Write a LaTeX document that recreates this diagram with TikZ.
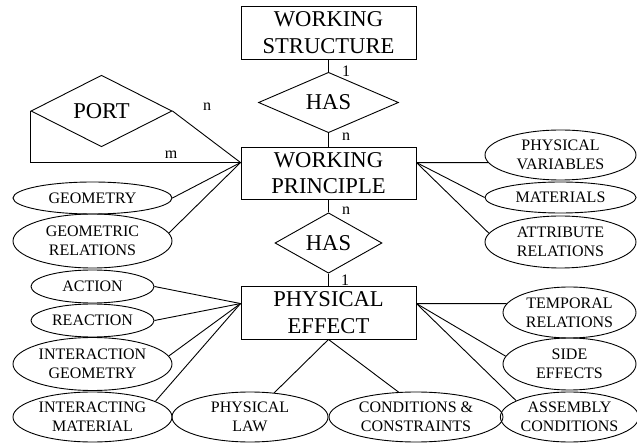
\documentclass[tikz,border=0pt]{standalone}
\usepackage{fontspec}
\setmainfont{Liberation Serif}
\usetikzlibrary{shapes.geometric,calc}
\begin{document}
\begin{tikzpicture}[x=1pt,y=-1pt,line width=0.9pt,
  entity/.style={draw,rectangle,minimum width=175pt,inner sep=0pt,align=center,font=\fontsize{22.6}{26.5}\selectfont},
  rel/.style={draw,diamond,inner sep=0pt,align=center,font=\fontsize{22.6}{26}\selectfont},
  attr/.style={draw,ellipse,inner sep=0pt,align=center,font=\fontsize{16}{19}\selectfont},
  card/.style={font=\fontsize{16}{16}\selectfont,inner sep=0pt}]
\useasboundingbox (0,0) rectangle (637,443);
% entities
\node[entity,minimum height=53pt] (ws) at (328.5,32.5) {WORKING\\STRUCTURE};
\node[entity,minimum height=52pt] (wp) at (328.5,173) {WORKING\\PRINCIPLE};
\node[entity,minimum height=53pt] (pe) at (328.5,312.5) {PHYSICAL\\EFFECT};
% relations
\node[rel,minimum width=140pt,minimum height=51pt] (has1) at (328.5,102.5) {HAS};
\node[rel,minimum width=107pt,minimum height=52pt] (has2) at (328.5,243) {HAS};
\node[rel,minimum width=141pt,minimum height=52pt] (port) at (101.5,111) {PORT};
% attributes left
\node[attr,minimum width=159pt,minimum height=32pt] (geo) at (92.5,198) {GEOMETRY};
\node[attr,minimum width=159pt,minimum height=54pt] (grel) at (92.5,241) {GEOMETRIC\\RELATIONS};
\node[attr,minimum width=123pt,minimum height=33pt] (act) at (92.5,286.5) {ACTION};
\node[attr,minimum width=123pt,minimum height=33pt] (react) at (92.5,320.5) {REACTION};
\node[attr,minimum width=159pt,minimum height=53pt] (igeo) at (92.5,364) {INTERACTION\\GEOMETRY};
\node[attr,minimum width=159pt,minimum height=50pt] (imat) at (92.5,417) {INTERACTING\\MATERIAL};
% attributes bottom
\node[attr,minimum width=156pt,minimum height=50pt] (plaw) at (250,417) {PHYSICAL\\LAW};
\node[attr,minimum width=174pt,minimum height=50pt] (cc) at (416,417) {CONDITIONS \&\\CONSTRAINTS};
% attributes right
\node[attr,minimum width=151pt,minimum height=50pt] (pv) at (560.5,155) {PHYSICAL\\VARIABLES};
\node[attr,minimum width=151pt,minimum height=31pt] (mat) at (560.5,197.5) {MATERIALS};
\node[attr,minimum width=151pt,minimum height=52pt] (ar) at (560.5,242) {ATTRIBUTE\\RELATIONS};
\node[attr,minimum width=133pt,minimum height=51pt] (temp) at (569.5,312.5) {TEMPORAL\\RELATIONS};
\node[attr,minimum width=133pt,minimum height=52pt] (side) at (569.5,364) {SIDE\\EFFECTS};
\node[attr,minimum width=133pt,minimum height=50pt] (asm) at (569.5,417) {ASSEMBLY\\CONDITIONS};
% connection points
\coordinate (wpL) at ($(wp.north west)+(0,16)$);
\coordinate (wpR) at ($(wp.north east)+(0,16)$);
\coordinate (peL) at ($(pe.north west)+(0,18)$);
\coordinate (peR) at ($(pe.north east)+(0,18)$);
\coordinate (portc) at (port.west |- wpL);
% relationship lines
\draw (ws.south) -- (has1.north);
\draw (has1.south) -- (wp.north);
\draw (wp.south) -- (has2.north);
\draw (has2.south) -- (pe.north);
\draw (port.east) -- (wpL);
\draw (port.west) -- (portc) -- (wpL);
% attribute lines
\draw (wpL) -- (geo.east);
\draw (wpL) -- (grel.6);
\draw (wpR) -- (pv.186);
\draw (wpR) -- (mat.west);
\draw (wpR) -- (ar.173);
\draw (peL) -- (act.east);
\draw (peL) -- (react.east);
\draw (peL) -- (igeo.6);
\draw (peL) -- (imat.14);
\draw (pe.south) -- (plaw.45);
\draw (pe.south) -- (cc.125);
\draw (peR) -- (temp.172);
\draw (peR) -- (side.173);
\draw (peR) -- (asm.163);
% cardinalities
\node[card] (c1) at (346,71) {1};
\node[card] (c2) at (346,137) {n};
\node[card] (c3) at (346,211) {n};
\node[card] (c4) at (345,280) {1};
\node[card] (c5) at (207,107) {n};
\node[card] (c6) at (171,155) {m};
\end{tikzpicture}
\end{document}
